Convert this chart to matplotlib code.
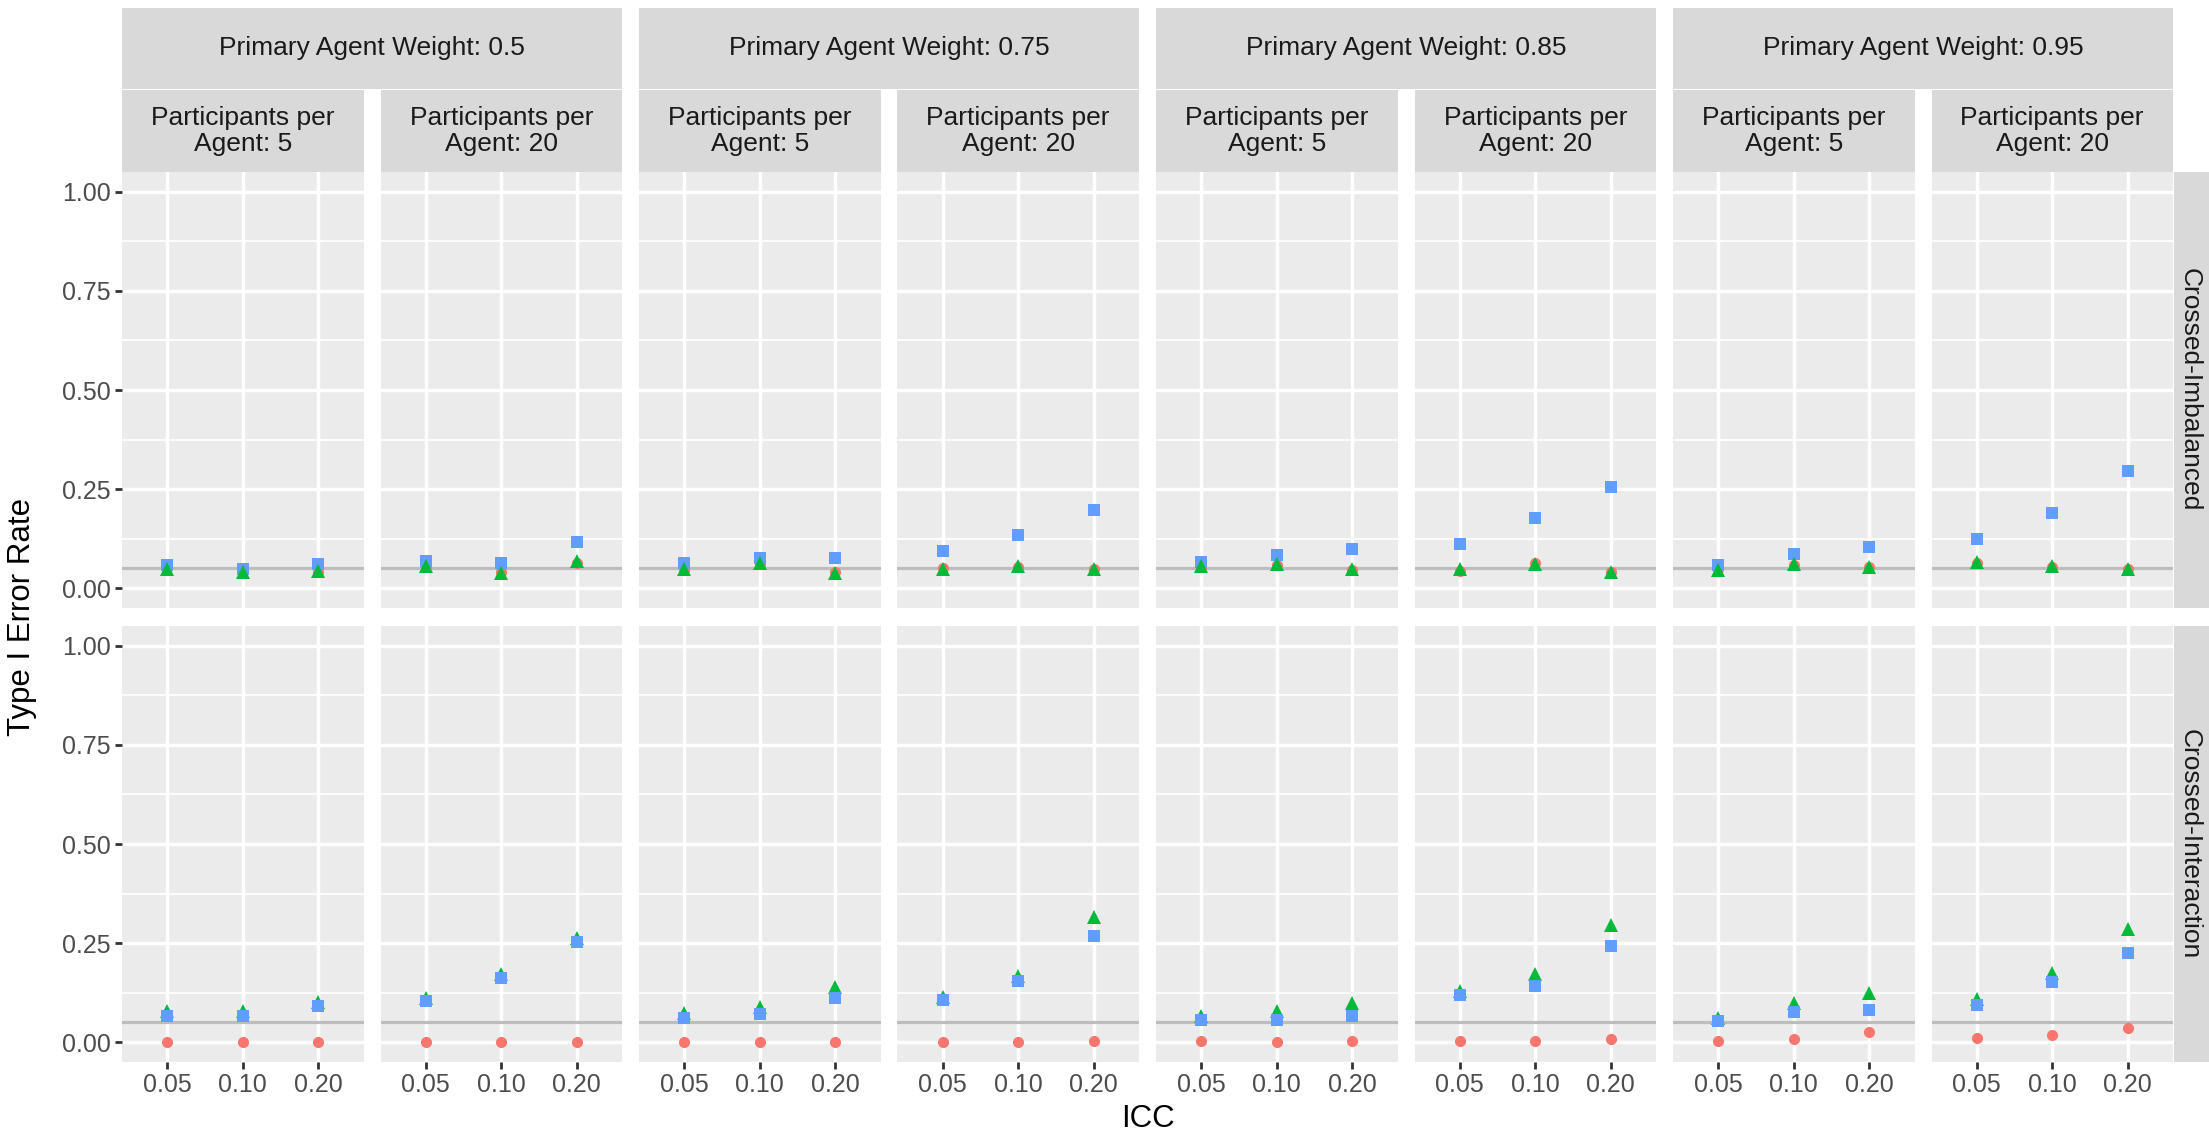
import matplotlib
matplotlib.use("Agg")
import matplotlib.pyplot as plt
import numpy as np

plt.rcParams["font.family"] = ["Liberation Sans", "DejaVu Sans"]

# ---- data ---------------------------------------------------------------
icc_labels = ["0.05", "0.10", "0.20"]
agent_weights = ["0.5", "0.75", "0.85", "0.95"]
participants_per_agent = ["5", "20"]
designs = ["Crossed-Imbalanced", "Crossed-Interaction"]

# one row of three ICC values per (weight, participants) panel, left to right
imbalanced_naive = [
    [0.050, 0.045, 0.041], [0.056, 0.041, 0.063],
    [0.046, 0.060, 0.041], [0.052, 0.054, 0.049],
    [0.054, 0.058, 0.046], [0.044, 0.064, 0.041],
    [0.048, 0.058, 0.054], [0.063, 0.054, 0.048],
]
imbalanced_nested = [
    [0.058, 0.049, 0.060], [0.069, 0.064, 0.116],
    [0.063, 0.077, 0.075], [0.094, 0.133, 0.198],
    [0.066, 0.083, 0.100], [0.111, 0.178, 0.256],
    [0.058, 0.085, 0.105], [0.125, 0.190, 0.295],
]
imbalanced_crossed = [
    [0.049, 0.041, 0.044], [0.056, 0.039, 0.069],
    [0.049, 0.064, 0.038], [0.049, 0.056, 0.049],
    [0.056, 0.060, 0.049], [0.049, 0.062, 0.041],
    [0.046, 0.060, 0.054], [0.066, 0.056, 0.049],
]
interaction_naive = [
    [0.000, 0.000, 0.000], [0.000, 0.000, 0.000],
    [0.000, 0.000, 0.000], [0.000, 0.000, 0.003],
    [0.002, 0.000, 0.002], [0.003, 0.002, 0.009],
    [0.004, 0.009, 0.026], [0.010, 0.019, 0.036],
]
interaction_nested = [
    [0.067, 0.067, 0.091], [0.105, 0.162, 0.254],
    [0.062, 0.071, 0.112], [0.107, 0.155, 0.269],
    [0.056, 0.056, 0.067], [0.119, 0.142, 0.242],
    [0.054, 0.075, 0.082], [0.095, 0.151, 0.226],
]
interaction_crossed = [
    [0.078, 0.079, 0.102], [0.112, 0.171, 0.263],
    [0.073, 0.088, 0.140], [0.114, 0.166, 0.315],
    [0.065, 0.078, 0.099], [0.130, 0.171, 0.295],
    [0.062, 0.099, 0.123], [0.108, 0.174, 0.285],
]
nominal_alpha = 0.05

# ---- styling ------------------------------------------------------------
# (values, colour, marker, size, zorder) per design row
row_series = [
    [(imbalanced_naive, "#F8766D", "o", 8.0, 3),
     (imbalanced_nested, "#619CFF", "s", 8.3, 4),
     (imbalanced_crossed, "#00BA38", "^", 10.5, 5)],
    [(interaction_naive, "#F8766D", "o", 8.0, 3),
     (interaction_crossed, "#00BA38", "^", 10.5, 4),
     (interaction_nested, "#619CFF", "s", 8.3, 5)],
]

W, H = 2209, 1139
PANEL_L, PANEL_W, GAP = 122, 241.5, 17
ROW_TOP, ROW_H = [172, 626], 436
STRIP_BG, PANEL_BG = "#D9D9D9", "#EBEBEB"
STRIP_FS, TICK_FS, TITLE_FS = 19.0, 18.0, 22.5

fig = plt.figure(figsize=(W / 100, H / 100), dpi=100)


def px_axes(x0, y0, x1, y1):
    return fig.add_axes([x0 / W, 1 - y1 / H, (x1 - x0) / W, (y1 - y0) / H])


def strip_axes(x0, y0, x1, y1):
    sa = px_axes(x0, y0, x1, y1)
    sa.set_facecolor(STRIP_BG)
    sa.set_xticks([])
    sa.set_yticks([])
    for s in sa.spines.values():
        s.set_visible(False)
    return sa


xpos = np.arange(1, len(icc_labels) + 1)
n_cols = len(agent_weights) * len(participants_per_agent)

for r, design in enumerate(designs):
    top = ROW_TOP[r]
    for c in range(n_cols):
        left = PANEL_L + c * (PANEL_W + GAP)
        ax = px_axes(left, top, left + PANEL_W, top + ROW_H)
        ax.set_facecolor(PANEL_BG)
        for s in ax.spines.values():
            s.set_visible(False)
        ax.set_xlim(0.4, 3.6)
        ax.set_ylim(-0.05, 1.05)
        ax.set_xticks(xpos)
        ax.set_xticklabels(icc_labels)
        ax.set_yticks([0, 0.25, 0.5, 0.75, 1.0])
        ax.set_yticklabels(["0.00", "0.25", "0.50", "0.75", "1.00"])
        ax.set_yticks([0.125, 0.375, 0.625, 0.875], minor=True)
        ax.set_axisbelow(True)
        ax.grid(which="major", color="white", linewidth=2.5)
        ax.grid(which="minor", axis="y", color="white", linewidth=1.25)
        ax.tick_params(which="minor", length=0)
        ax.tick_params(which="major", length=5, width=2, color="#333333",
                       labelcolor="#4D4D4D", labelsize=TICK_FS, pad=3)
        if c > 0:
            ax.tick_params(axis="y", length=0, labelleft=False)
        if r == 0:
            ax.tick_params(axis="x", length=0, labelbottom=False)

        ax.axhline(nominal_alpha, color="#BDBDBD", linewidth=2.3, zorder=2)
        for values, color, marker, size, z in row_series[r]:
            ax.plot(xpos, values[c], linestyle="none", marker=marker,
                    markersize=size, color=color, markeredgewidth=0, zorder=z)

    # row strip on the right
    sa = strip_axes(PANEL_L + n_cols * PANEL_W + (n_cols - 1) * GAP + 1, top,
                    W, top + ROW_H)
    sa.text(0.45, 0.5, design, rotation=-90, ha="center", va="center",
            fontsize=STRIP_FS, color="#1A1A1A", transform=sa.transAxes)

# nested column strips: agent weight on top, participants below
for g, weight in enumerate(agent_weights):
    g_left = PANEL_L + 2 * g * (PANEL_W + GAP)
    g_right = g_left + 2 * PANEL_W + GAP
    sa = strip_axes(g_left, 8, g_right, 89)
    sa.text(0.5, 0.5, f"Primary Agent Weight: {weight}", ha="center",
            va="center", fontsize=STRIP_FS, color="#1A1A1A",
            transform=sa.transAxes)
    for k, n in enumerate(participants_per_agent):
        left = g_left + k * (PANEL_W + GAP)
        sa = strip_axes(left, 90, left + PANEL_W, ROW_TOP[0])
        sa.text(0.5, 0.5, f"Participants per\nAgent: {n}", ha="center",
                va="center", fontsize=STRIP_FS, color="#1A1A1A",
                linespacing=1.1, transform=sa.transAxes)

panel_right = PANEL_L + n_cols * PANEL_W + (n_cols - 1) * GAP
fig.text((PANEL_L + panel_right) / 2 / W, 1 - 1119 / H, "ICC", ha="center",
         va="center", fontsize=TITLE_FS, color="black")
fig.text(22 / W, 1 - (ROW_TOP[0] + ROW_TOP[1] + ROW_H) / 2 / H,
         "Type I Error Rate", rotation=90, ha="center", va="center",
         fontsize=TITLE_FS, color="black")

fig.savefig("out.png", dpi=100, facecolor="white")
